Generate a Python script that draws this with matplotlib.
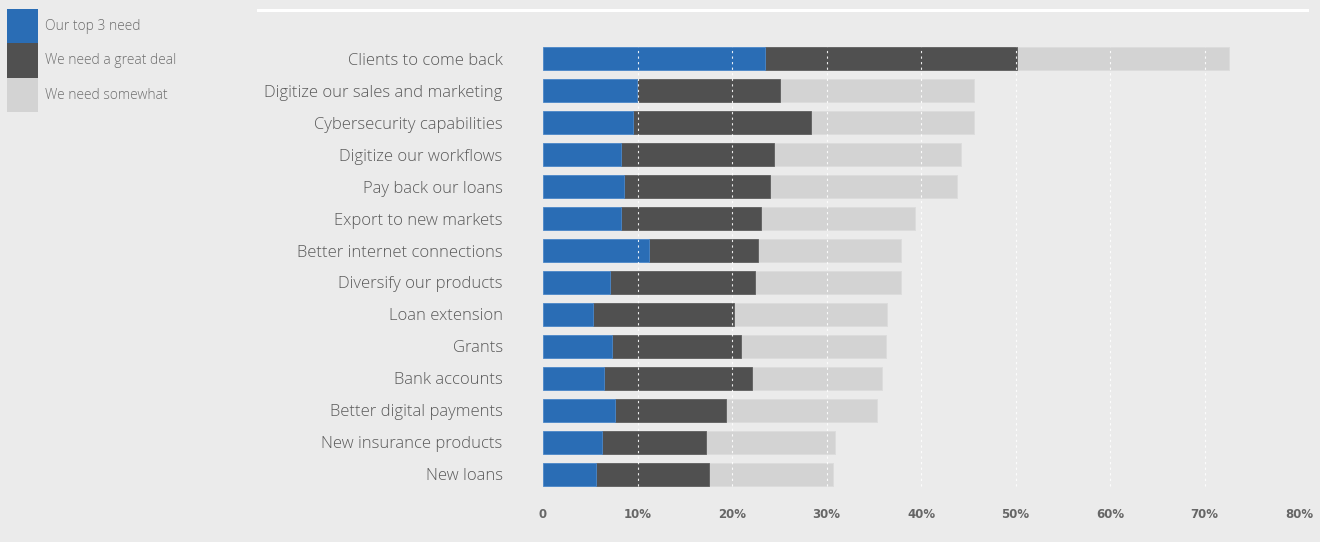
import matplotlib
matplotlib.use('Agg')
import matplotlib.pyplot as plt
from matplotlib.patches import Patch
from matplotlib.lines import Line2D
import numpy as np

categories = ['Clients to come back', 'Digitize our sales and marketing',
              'Cybersecurity capabilities', 'Digitize our workflows',
              'Pay back our loans', 'Export to new markets',
              'Better internet connections', 'Diversify our products',
              'Loan extension', 'Grants', 'Bank accounts',
              'Better digital payments', 'New insurance products', 'New loans']

# cumulative ends of each stacked segment, in percent
top3_end = [23.5, 9.9, 9.5, 8.3, 8.6, 8.3, 11.2, 7.1, 5.3, 7.3, 6.5, 7.6, 6.2, 5.6]
great_end = [50.2, 25.1, 28.4, 24.4, 24.0, 23.1, 22.8, 22.4, 20.2, 20.9, 22.1, 19.4, 17.3, 17.6]
somewhat_end = [72.6, 45.6, 45.6, 44.2, 43.8, 39.4, 37.9, 37.9, 36.4, 36.3, 35.9, 35.3, 30.9, 30.7]

series_names = ['Our top 3 need', 'We need a great deal', 'We need somewhat']
colors = ['#2a6db5', '#505050', '#d3d3d3']

xticks = [0, 10, 20, 30, 40, 50, 60, 70, 80]
xtick_labels = ['0', '10%', '20%', '30%', '40%', '50%', '60%', '70%', '80%']

label_font = ['Open Sans', 'DejaVu Sans']

bg = '#ebebeb'
fig = plt.figure(figsize=(13.2, 5.42), dpi=100, facecolor=bg)
ax = fig.add_axes([543 / 1320, 1 - 490 / 542, (1299 - 543) / 1320, 447 / 542])
ax.set_facecolor(bg)

y = np.arange(len(categories))
top3 = np.array(top3_end)
great = np.array(great_end)
some = np.array(somewhat_end)

h = 0.72
ax.barh(y, some - great, left=great, height=h, color=colors[2],
        edgecolor='#dcdcdc', linewidth=0.6, zorder=2)
ax.barh(y, great - top3, left=top3, height=h, color=colors[1],
        edgecolor='#5e5e5e', linewidth=0.6, zorder=2)
ax.barh(y, top3, height=h, color=colors[0],
        edgecolor='#4a86c8', linewidth=0.6, zorder=2)

ax.set_xlim(0, 80)
ax.set_ylim(len(categories) - 0.5, -0.5)
ax.set_xticks(xticks)
ax.set_xticklabels(xtick_labels)
ax.set_yticks(y)
ax.set_yticklabels(categories)

# dashed white guides drawn over the bars
for t in xticks[1:-1]:
    ax.axvline(t, ymin=0.01, ymax=0.99, color='white', lw=0.8,
               ls=(0, (2, 3)), alpha=0.9, zorder=3)

for s in ax.spines.values():
    s.set_visible(False)
ax.tick_params(axis='both', length=0)
ax.tick_params(axis='y', pad=29, labelsize=12, labelcolor='#5a5a5a')
ax.tick_params(axis='x', pad=13, labelsize=8.5, labelcolor='#666666')
for lab in ax.get_yticklabels():
    lab.set_fontfamily(label_font)
    lab.set_fontweight('light')
for lab in ax.get_xticklabels():
    lab.set_fontfamily(['Liberation Sans Narrow', 'DejaVu Sans'])
    lab.set_fontweight('bold')

# white rule across the top
fig.add_artist(Line2D([258 / 1320, 1307 / 1320], [1 - 10 / 542, 1 - 10 / 542],
                      color='white', lw=2.2, transform=fig.transFigure))

handles = [Patch(facecolor=c, edgecolor='none') for c in colors]
leg = fig.legend(handles, series_names, loc='upper left',
                 bbox_to_anchor=(7 / 1320, 1 - 9 / 542), frameon=False,
                 borderpad=0, borderaxespad=0, labelspacing=0,
                 handlelength=2.2, handleheight=3.42, handletextpad=0.55,
                 prop={'family': label_font, 'weight': 'light', 'size': 10})
for t in leg.get_texts():
    t.set_color('#6e6e6e')

fig.savefig('out.png', dpi=100, facecolor=bg)
